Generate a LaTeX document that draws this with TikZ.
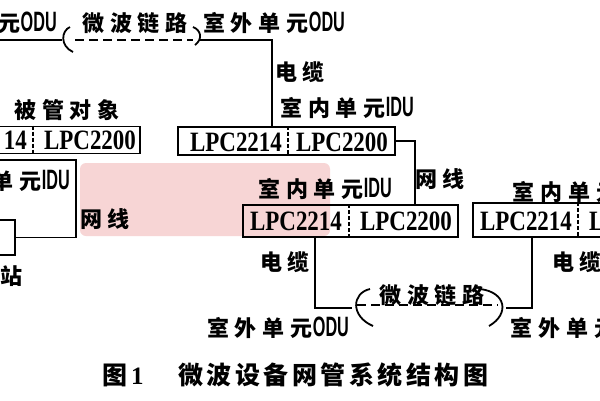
\documentclass[tikz,border=0pt]{standalone}
\usepackage{fontspec}
\setmainfont{Liberation Serif}
\newfontfamily\cjkfam[LetterSpace=27]{Noto Sans CJK SC}
\newfontfamily\capfam[LetterSpace=14]{Noto Sans CJK SC}
\newfontfamily\lpcfam[FakeStretch=0.82]{Liberation Serif}
\newfontfamily\dufam[FakeStretch=0.58]{Liberation Sans}
\newcommand\zh[1]{{\cjkfam\bfseries #1}}
\newcommand\du[1]{{\fontsize{28}{28}\selectfont\dufam\bfseries #1}}
\definecolor{wm}{RGB}{236,150,150}
\begin{document}
\begin{tikzpicture}[x=1pt,y=-1pt,
  wire/.style={line width=1.8pt,black},
  linkdash/.style={line width=1.8pt,black,dash pattern=on 9pt off 5pt},
  sep/.style={line width=2pt,black,dash pattern=on 4pt off 2pt},
  box/.style={draw,line width=1.8pt,inner sep=0pt},
  lbl/.style={inner sep=0pt,font=\fontsize{22}{24}\selectfont},
  lpc/.style={inner sep=0pt,font=\fontsize{28}{30}\selectfont\lpcfam\bfseries},
  captext/.style={inner sep=0pt,font=\fontsize{25}{27}\selectfont}]
\useasboundingbox (0,0) rectangle (600,400);
\fill[white] (0,0) rectangle (600,400);
% watermark tint
\fill[wm,opacity=0.4,rounded corners=6pt] (80,163) rectangle (330,236);
% ---------- top microwave link ----------
\node[lbl,anchor=east] (tlODU) at (57,23) {\zh{元}\du{ODU}};
\node[lbl] (tlink) at (135,23) {\zh{微波链路}};
\node[lbl] (tODU) at (274,23) {\zh{室外单元}\du{ODU}};
\coordinate (tl0) at (-3,40);
\coordinate (tl1) at (62,40);
\coordinate (tr0) at (200,40);
\draw[wire] (tl0) -- (tl1);
\draw[wire] (70,27) .. controls (61,31) and (60,46) .. (73,52);
\draw[linkdash] (75,40) -- (193,40);
\draw[wire] (193,27) .. controls (201,30) and (203,39) .. (195,45);
% ---------- middle IDU ----------
\node[lbl] (cab1) at (300,72) {\zh{电缆}};
\node[lbl] (idu1) at (347,108) {\zh{室内单元}\du{IDU}};
\node[box,minimum width=217pt,minimum height=28pt] (bm) at (286.5,141) {};
\node[lpc] (bm1) at (236,142) {LPC2214};
\node[lpc] (bm2) at (342,142) {LPC2200};
\draw[sep] (288,0 |- bm.north) -- (288,0 |- bm.south);
\draw[wire] (tr0) -| (272,0 |- bm.north);
% ---------- left object ----------
\node[lbl] (obj) at (67,110) {\zh{被管对象}};
\node[box,minimum width=150pt,minimum height=27pt] (bl) at (65,140) {};
\node[lpc,anchor=east] (bl1) at (27,140) {14};
\node[lpc] (bl2) at (90,140) {LPC2200};
\draw[sep] (33,0 |- bl.north) -- (33,0 |- bl.south);
\node[lbl,anchor=east] (idu0) at (70,181) {\zh{单元}\du{IDU}};
\node[box,minimum width=22pt,minimum height=35pt] (st) at (4,237.5) {};
\node[lbl] (stl) at (12,276) {\zh{站}};
\node[lbl] (net1) at (105,219) {\zh{网线}};
\draw[wire] (st.east) -| (76,160) -- (-3,160);
% ---------- lower middle IDU ----------
\node[lbl] (net2) at (440,179) {\zh{网线}};
\node[lbl] (idu2) at (325,189) {\zh{室内单元}\du{IDU}};
\node[box,minimum width=215pt,minimum height=32pt] (bc) at (350.5,221) {};
\node[lpc] (bc1) at (296,221) {LPC2214};
\node[lpc] (bc2) at (406,221) {LPC2200};
\draw[sep] (349,0 |- bc.north) -- (349,0 |- bc.south);
\draw[wire] (bm.east) -| (415,0 |- bc.north);
% ---------- right IDU ----------
\node[lbl,anchor=west] (idu3) at (512,192) {\zh{室内单元}};
\node[box,minimum width=140pt,minimum height=34pt] (br) at (543,220) {};
\node[lpc] (br1) at (526,221) {LPC2214};
\node[lpc,anchor=west] (br2) at (589,221) {L};
\draw[sep] (578,0 |- br.north) -- (578,0 |- br.south);
% ---------- lower microwave link ----------
\node[lbl] (cab2) at (285,262) {\zh{电缆}};
\node[lbl] (cab3) at (577,262) {\zh{电缆}};
\node[lbl] (blink) at (432,295) {\zh{微波链路}};
\node[lbl] (bODU) at (278,328) {\zh{室外单元}\du{ODU}};
\node[lbl,anchor=west] (bODU2) at (510,328) {\zh{室外单元}};
\coordinate (bl0) at (352,308);
\coordinate (br0) at (506,308);
\draw[wire] (315,0 |- bc.south) |- (bl0);
\draw[wire] (370,289) .. controls (352,293) and (350,316) .. (373,326);
\draw[linkdash] (357,305) -- (498,305);
\draw[wire] (480,289) .. controls (506,292) and (510,314) .. (489,326);
\draw[wire] (br0) -| (532,0 |- br.south);
% ---------- caption ----------
\node[captext] (fig) at (123,375) {{\capfam\bfseries 图}\textbf{1}};
\node[captext,anchor=west] (title) at (178,375) {{\capfam\bfseries 微波设备网管系统结构图}};
\end{tikzpicture}
\end{document}
